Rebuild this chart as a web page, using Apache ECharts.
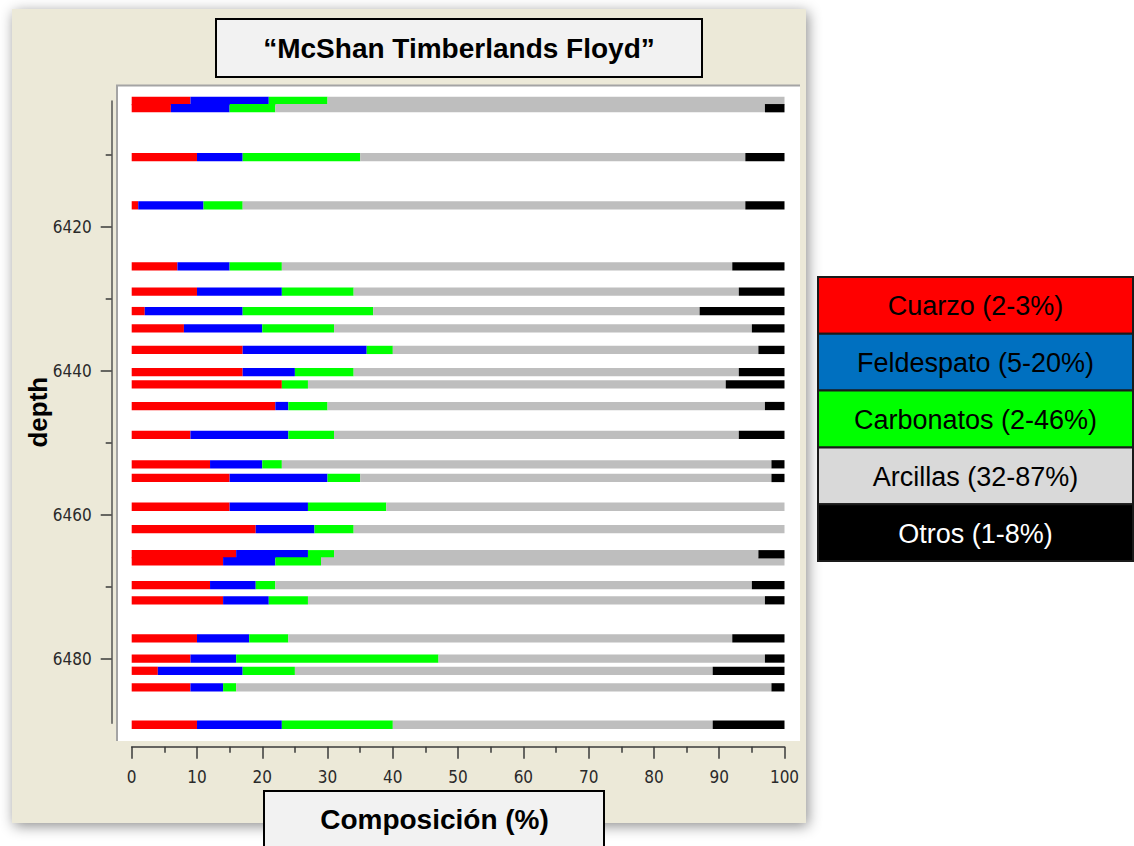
<!DOCTYPE html>
<html>
<head>
<meta charset="utf-8">
<script src="https://cdn.jsdelivr.net/npm/echarts@6/dist/echarts.min.js"></script>
<style>
html,body{margin:0;padding:0;background:#ffffff;}
#chart{width:1134px;height:846px;}
</style>
</head>
<body>
<div id="chart"></div>
<script>
// ---------------- data ----------------
const depths     = [6402.5, 6403.5, 6410.3, 6417.0, 6425.5, 6429.0, 6431.7, 6434.1, 6437.1, 6440.2, 6441.9, 6444.9, 6448.9, 6453.0, 6454.9, 6458.9, 6462.0, 6465.5, 6466.5, 6469.8, 6471.9, 6477.2, 6480.0, 6481.7, 6484.0, 6489.2];
const cuarzo     = [9, 6, 10, 1, 7, 10, 2, 8, 17, 17, 23, 22, 9, 12, 15, 15, 19, 16, 14, 12, 14, 10, 9, 4, 9, 10];
const feldespato = [12, 9, 7, 10, 8, 13, 15, 12, 19, 8, 0, 2, 15, 8, 15, 12, 9, 11, 8, 7, 7, 8, 7, 13, 5, 13];
const carbonatos = [9, 7, 18, 6, 8, 11, 20, 11, 4, 9, 4, 6, 7, 3, 5, 12, 6, 4, 7, 3, 6, 6, 31, 8, 2, 17];
const arcillas   = [70, 75, 59, 77, 69, 59, 50, 64, 56, 59, 64, 67, 62, 75, 63, 61, 66, 65, 71, 73, 70, 68, 50, 64, 82, 49];
const otros      = [0, 3, 6, 6, 8, 7, 13, 5, 4, 7, 9, 3, 7, 2, 2, 0, 0, 4, 0, 5, 3, 8, 3, 11, 2, 11];

const componentNames = ['Cuarzo (2-3%)', 'Feldespato (5-20%)', 'Carbonatos (2-46%)', 'Arcillas (32-87%)', 'Otros (1-8%)'];
const yLabelValues = [6420, 6440, 6460, 6480];
const yMinorTickValues = [6410, 6430, 6450, 6470];
const depthMin = 6402.5;
const depthMax = 6489;
const titleText = '\u201cMcShan Timberlands Floyd\u201d';
const xAxisTitle = 'Composición (%)';
const yAxisTitle = 'depth';

// ---------------- styles ----------------
const barColors = ['#FF0000', '#0000FF', '#00FF00', '#BEBEBE', '#000000'];
const legendColors = ['#FF0000', '#0070C0', '#00FF00', '#D9D9D9', '#000000'];
const legendTextColors = ['#000', '#000', '#000', '#000', '#fff'];
const BAR_DEPTH = 1.15;
const FONT = 'Arial, "Liberation Sans", sans-serif';
const TICK_FONT = '"Liberation Sans Narrow", "DejaVu Sans Condensed", "Arial Narrow", sans-serif';

const comps = [cuarzo, feldespato, carbonatos, arcillas, otros];

const series = comps.map((vals, ci) => ({
  type: 'custom',
  name: componentNames[ci],
  coordinateSystem: 'cartesian2d',
  clip: false,
  z: 3,
  encode: { x: [0, 1], y: 2 },
  data: depths.map((d, i) => {
    let s = 0;
    for (let k = 0; k < ci; k++) s += comps[k][i];
    return [s, s + vals[i], d];
  }).filter(r => r[1] > r[0]),
  renderItem: function (params, api) {
    const a = api.coord([api.value(0), api.value(2)]);
    const b = api.coord([api.value(1), api.value(2)]);
    const h = api.size([0, BAR_DEPTH])[1];
    return {
      type: 'rect',
      shape: { x: a[0], y: a[1] - h / 2, width: b[0] - a[0], height: h },
      style: { fill: barColors[ci] }
    };
  }
}));

// ---------------- decorations ----------------
const graphics = [
  { type: 'rect', z: -10, shape: { x: 12, y: 9, width: 794, height: 814 },
    style: { fill: '#ECE9D8', shadowBlur: 14, shadowColor: 'rgba(0,0,0,0.45)', shadowOffsetX: 2, shadowOffsetY: 3 } },
  { type: 'rect', z: -9, shape: { x: 117, y: 85, width: 683, height: 656 },
    style: { fill: '#FFFFFF' } },
  { type: 'polyline', z: -8, shape: { points: [[117, 741], [117, 85.5], [800, 85.5]] },
    style: { stroke: '#A4A4A4', lineWidth: 2, fill: null } },
  // title box
  { type: 'rect', z: -5, shape: { x: 216, y: 19, width: 486, height: 58 },
    style: { fill: '#F2F2F2', stroke: '#000', lineWidth: 2 } },
  { type: 'text', z: -4, style: { text: titleText, x: 459, y: 48, textAlign: 'center', textVerticalAlign: 'middle',
    font: 'bold 28px ' + FONT, fill: '#000' } },
  // x axis title box
  { type: 'rect', z: -5, shape: { x: 264, y: 791, width: 340, height: 70 },
    style: { fill: '#F2F2F2', stroke: '#000', lineWidth: 2 } },
  { type: 'text', z: -4, style: { text: xAxisTitle, x: 434.5, y: 819, textAlign: 'center', textVerticalAlign: 'middle',
    font: 'bold 28px ' + FONT, fill: '#000' } }
];
const LEG_X = 818, LEG_W = 315, LEG_Y = 277, LEG_H = 56.8;
componentNames.forEach((name, i) => {
  graphics.push({ type: 'rect', z: -5, shape: { x: LEG_X, y: LEG_Y + i * LEG_H, width: LEG_W, height: LEG_H },
    style: { fill: legendColors[i], stroke: '#1a1a1a', lineWidth: 2 } });
  graphics.push({ type: 'text', z: -4, style: { text: name, x: LEG_X + LEG_W / 2, y: LEG_Y + i * LEG_H + LEG_H / 2 + 1,
    textAlign: 'center', textVerticalAlign: 'middle', font: '27px ' + FONT, fill: legendTextColors[i] } });
});

const chart = echarts.init(document.getElementById('chart'), null, { renderer: 'svg' });
chart.setOption({
  animation: false,
  backgroundColor: '#ffffff',
  grid: { left: 131.7, right: 1134 - 784.5, top: 101, bottom: 846 - 723.3, containLabel: false },
  xAxis: {
    type: 'value', min: 0, max: 100, interval: 10, position: 'bottom', offset: 23.4, z: 5,
    axisLine: { show: true, onZero: false, lineStyle: { color: '#3a3a3a', width: 1.5 } },
    axisTick: { show: true, length: 12, lineStyle: { color: '#3a3a3a', width: 1.5 } },
    minorTick: { show: true, splitNumber: 2, length: 6, lineStyle: { color: '#3a3a3a', width: 1.5 } },
    splitLine: { show: false },
    axisLabel: { margin: 22, color: '#2a2a2a', fontSize: 17, fontFamily: TICK_FONT }
  },
  yAxis: [
    {
      type: 'value', inverse: true, min: depthMin, max: depthMax, position: 'left', offset: 20, z: 5,
      name: yAxisTitle, nameLocation: 'middle', nameGap: 61, nameRotate: 90, nameMoveOverlap: false,
      nameTextStyle: { fontSize: 26, fontWeight: 'bold', fontFamily: FONT, color: '#000' },
      axisLine: { show: true, onZero: false, lineStyle: { color: '#555', width: 1.5 } },
      axisTick: { show: true, length: 11, customValues: yLabelValues, lineStyle: { color: '#3a3a3a', width: 1.5 } },
      axisLabel: { margin: 20, customValues: yLabelValues, formatter: v => String(v),
        color: '#2a2a2a', fontSize: 17, fontFamily: TICK_FONT },
      splitLine: { show: false }
    },
    {
      type: 'value', inverse: true, min: depthMin, max: depthMax, position: 'left', offset: 20, z: 5,
      axisLine: { show: false, onZero: false },
      axisTick: { show: true, length: 6, customValues: yMinorTickValues, lineStyle: { color: '#3a3a3a', width: 1.5 } },
      axisLabel: { show: false },
      splitLine: { show: false }
    }
  ],
  graphic: { elements: graphics },
  series: series
});
</script>
</body>
</html>
